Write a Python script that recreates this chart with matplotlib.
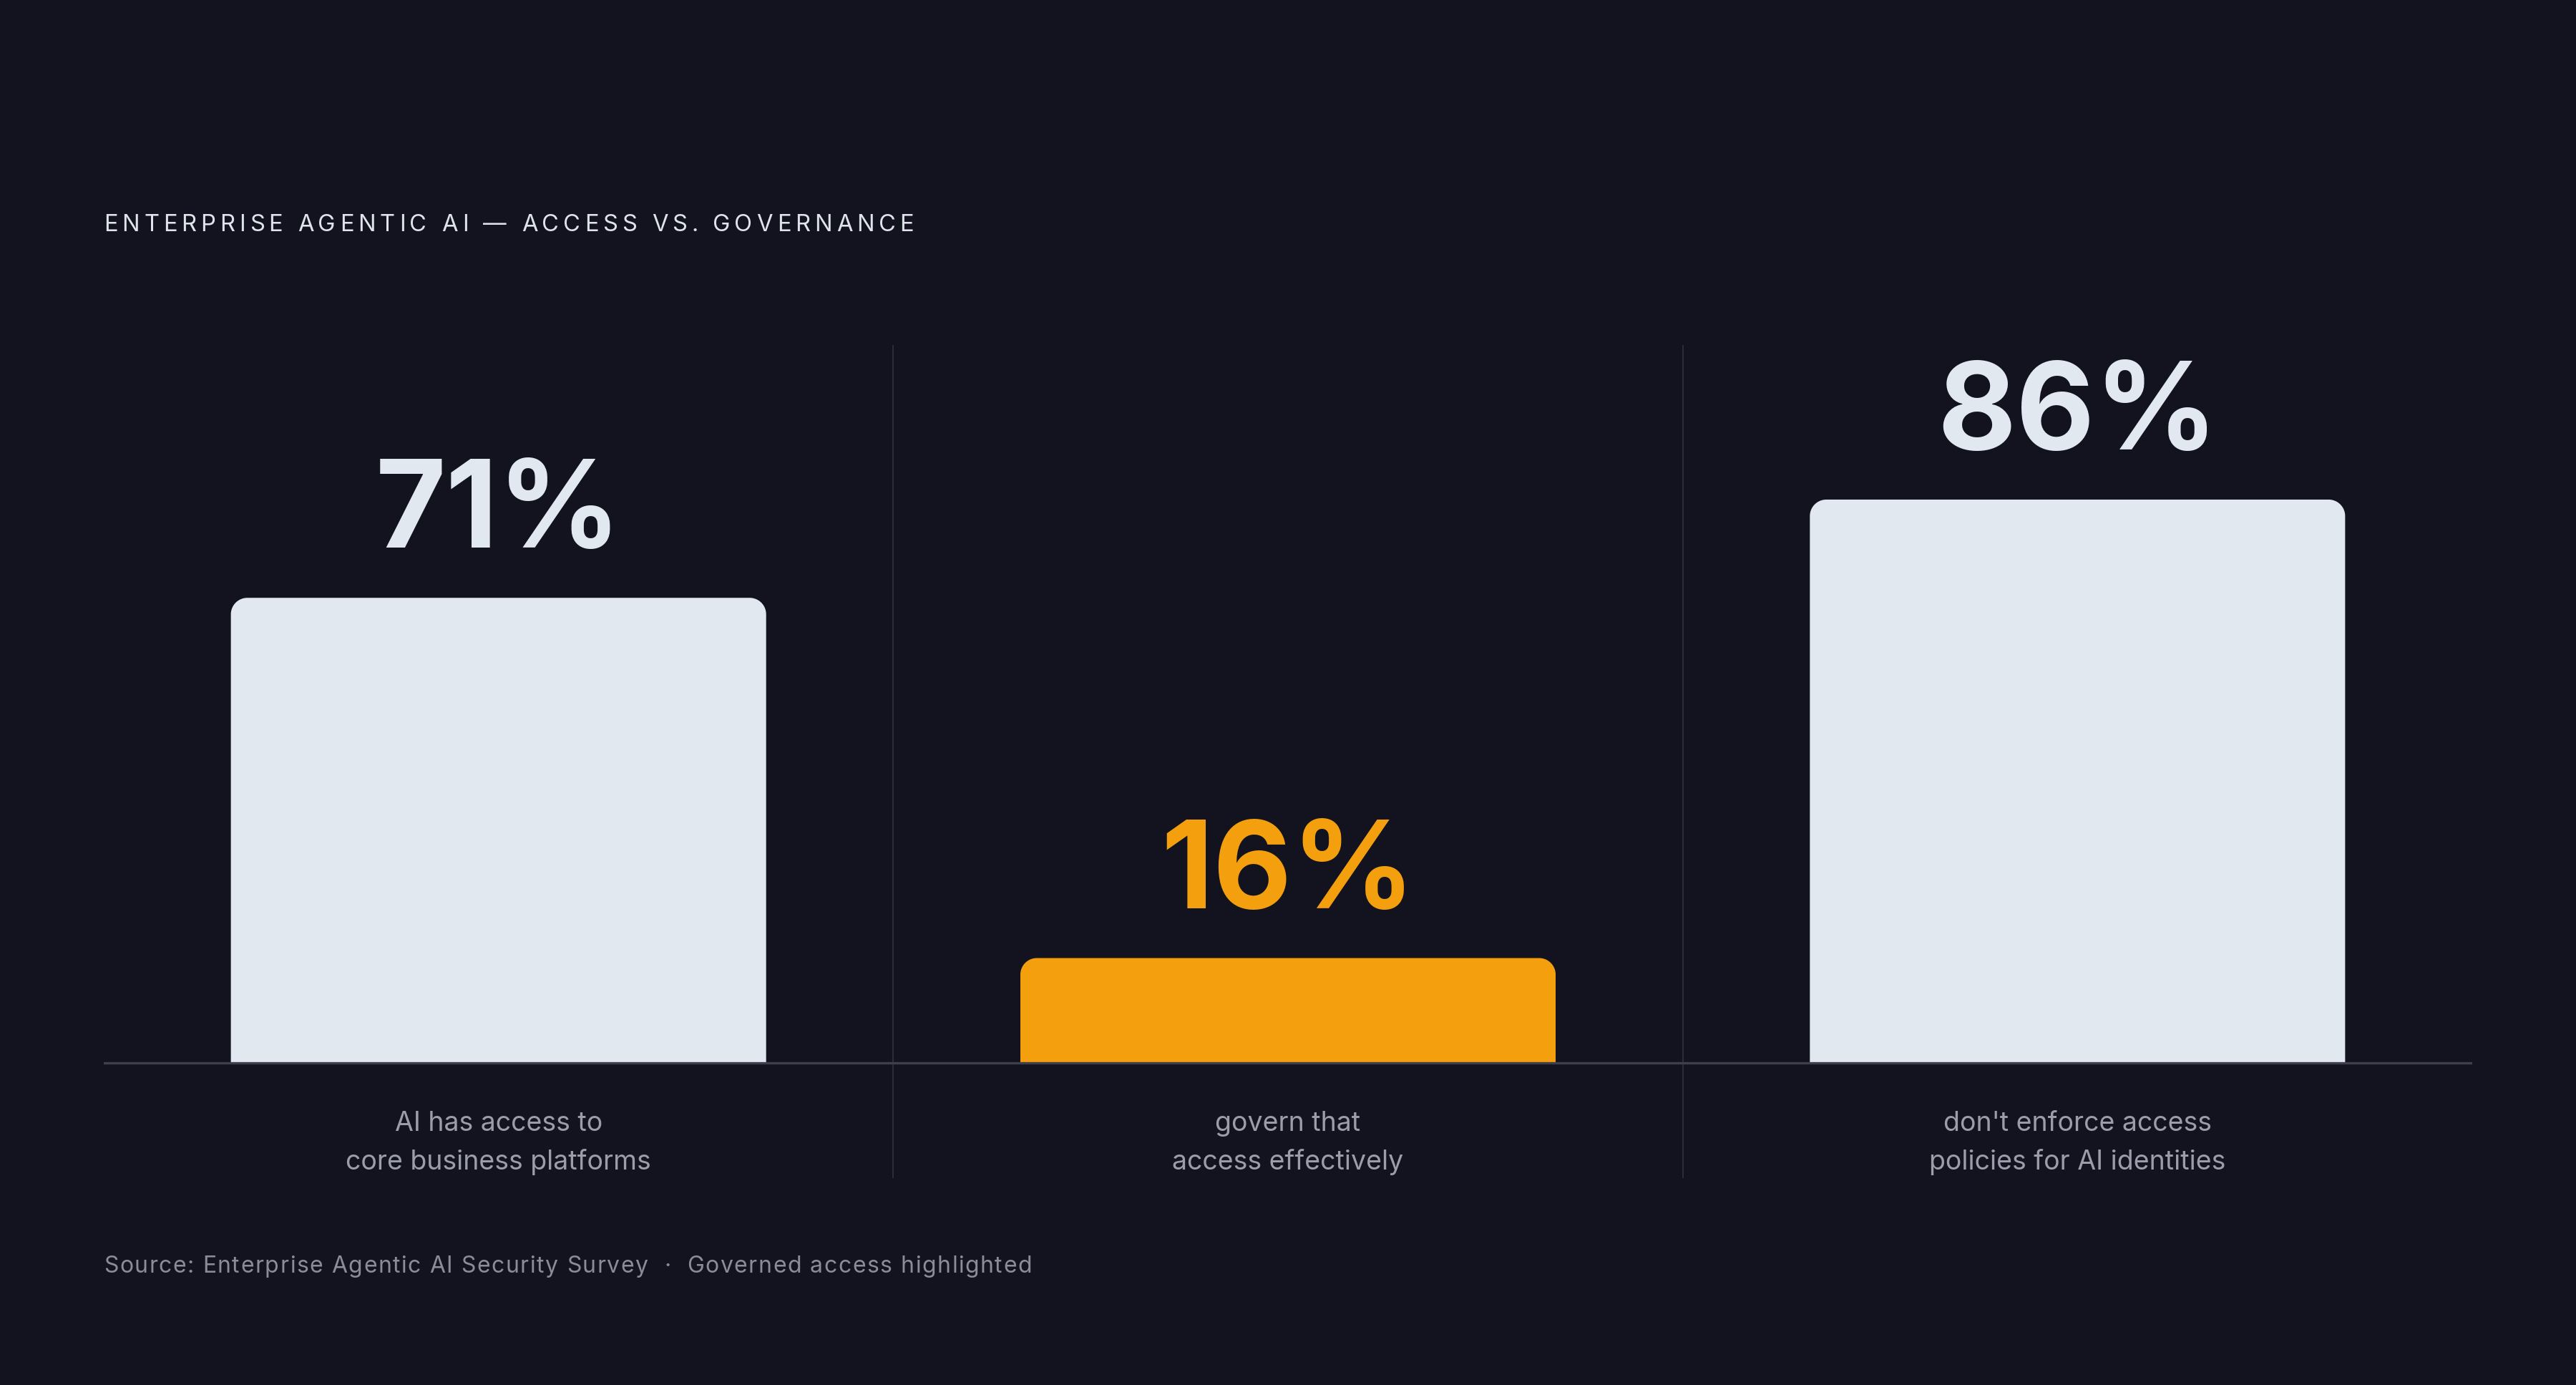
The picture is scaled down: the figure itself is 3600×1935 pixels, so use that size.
import matplotlib
matplotlib.use("Agg")
import numpy as np
import matplotlib.pyplot as plt
from matplotlib.patches import Polygon
from matplotlib.font_manager import FontProperties

# ---- data ----
categories = [
    ["AI has access to", "core business platforms"],
    ["govern that", "access effectively"],
    ["don't enforce access", "policies for AI identities"],
]
values = [71, 16, 86]
value_labels = ["71%", "16%", "86%"]
highlight = [False, True, False]
title = "ENTERPRISE AGENTIC AI \u2014 ACCESS VS. GOVERNANCE"
source = "Source: Enterprise Agentic AI Security Survey  \u00b7  Governed access highlighted"

# ---- style ----
BG = "#12131e"
BAR = "#e2e8f0"
HL = "#f39f0e"
LABEL = "#9c9daa"
SRC = "#8b8c98"
GRID = "#2a2b37"
BASE = "#3e3f4c"
FONT = "Inter"

W, H, DPI = 3600, 1935, 100
fig = plt.figure(figsize=(W / DPI, H / DPI), dpi=DPI, facecolor=BG)

ax_left, ax_right = 145, 3455
ax_top, ax_bot = 482, 1646
ax = fig.add_axes([ax_left / W, 1 - ax_bot / H, (ax_right - ax_left) / W, (ax_bot - ax_top) / H])
ax.set_facecolor(BG)
ax.set_xlim(0, 3)
ax.set_ylim(-17.6, 109.6)
ax.axis("off")

bar_w = 0.678
px_x = (ax_right - ax_left) / 3.0
px_y = (ax_bot - ax_top) / (109.6 + 17.6)
rx = 23 / px_x
ry = 23 / px_y

fig.canvas.draw()
renderer = fig.canvas.get_renderer()


def spaced(x_px, y_px, s, prop, color, target_w):
    widths = [renderer.get_text_width_height_descent(c, prop, ismath=False)[0] for c in s]
    sp = (target_w - sum(widths)) / (len(s) - 1)
    x = x_px
    for c, w in zip(s, widths):
        fig.text(x / W, 1 - y_px / H, c, fontproperties=prop, color=color,
                 ha="left", va="baseline", zorder=5)
        x += w + sp


t = np.linspace(0, np.pi / 2, 20)
num_prop = FontProperties(family=FONT, size=122, weight="bold")
lab_prop = FontProperties(family=FONT, size=27)
for i, v in enumerate(values):
    x0 = i + 0.5 - bar_w / 2
    x1 = x0 + bar_w
    col = HL if highlight[i] else BAR
    left_arc = np.column_stack([x0 + rx - rx * np.cos(t), v - ry + ry * np.sin(t)])
    right_arc = np.column_stack([x1 - rx + rx * np.sin(t), v - ry + ry * np.cos(t)])
    verts = np.vstack([[x0, 0], left_arc, right_arc, [x1, 0]])
    ax.add_patch(Polygon(verts, closed=True, fc=col, ec="none", zorder=2))

    ax.text(i + 0.5, v + 70 / px_y, value_labels[i], ha="center", va="baseline",
            fontproperties=num_prop, color=col, zorder=3)
    ax.text(i + 0.5, -95 / px_y, categories[i][0], ha="center", va="baseline",
            fontproperties=lab_prop, color=LABEL)
    ax.text(i + 0.5, -149 / px_y, categories[i][1], ha="center", va="baseline",
            fontproperties=lab_prop, color=LABEL)

for xd in [1, 2]:
    ax.axvline(xd, color=GRID, lw=1.6, zorder=1)
ax.axhline(0, color=BASE, lw=2.4, zorder=4)

spaced(145, 323, title, FontProperties(family=FONT, size=23.5), "#dfe3ea", 1132)
spaced(145, 1778, source, FontProperties(family=FONT, size=23), SRC, 1297)

fig.savefig("out.png", dpi=DPI, facecolor=BG)
